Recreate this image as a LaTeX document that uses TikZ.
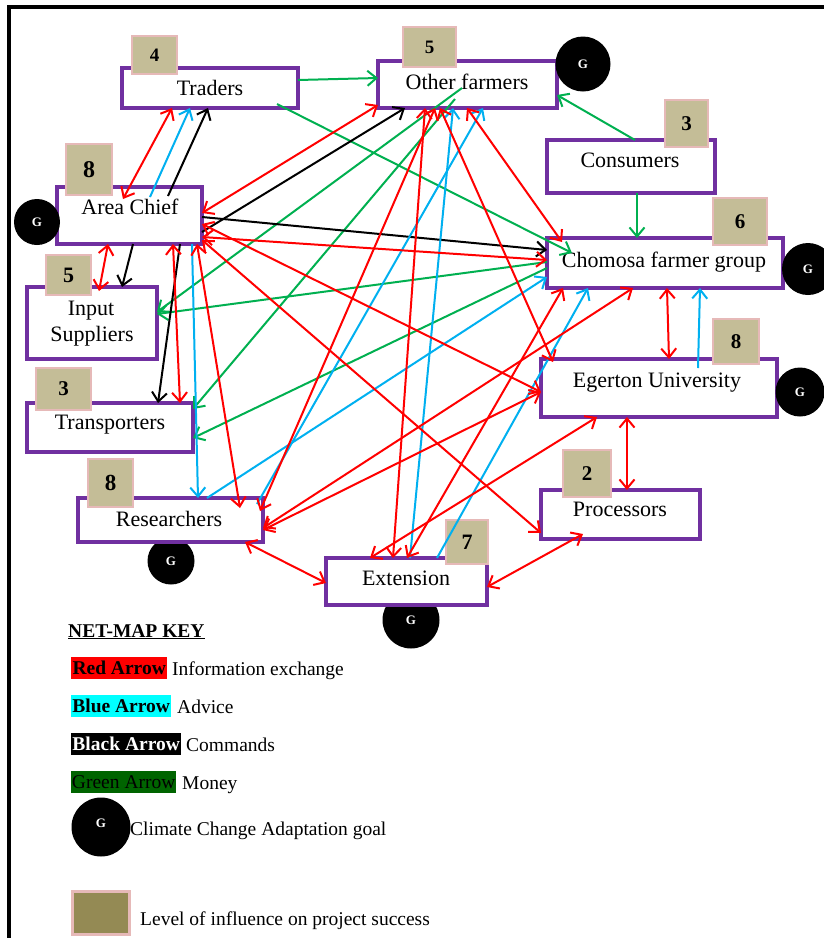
\documentclass[tikz,border=0pt]{standalone}
\usepackage{fontspec}
\setmainfont{Liberation Serif}
\usetikzlibrary{arrows.meta}
\definecolor{boxp}{HTML}{7030A0}
\definecolor{badgetan}{HTML}{C4BD97}
\definecolor{badgepink}{HTML}{E6B9B8}
\definecolor{keysq}{HTML}{948A54}
\definecolor{ared}{HTML}{FF0000}
\definecolor{ablue}{HTML}{00B0F0}
\definecolor{agreen}{HTML}{00B050}
\definecolor{cyanhl}{HTML}{00FFFF}
\definecolor{greenhl}{HTML}{006400}
\tikzset{
 box/.style={draw=boxp, line width=3.2pt, fill=white, anchor=north west, inner sep=0pt, outer sep=0pt},
 lbl/.style={anchor=base, inner sep=0pt, font=\fontsize{22}{26}\selectfont},
 badge/.style={fill=badgetan, draw=badgepink, line width=2.8pt, inner sep=0pt, font=\bfseries\fontsize{21}{24}\selectfont},
 goal/.style={circle, fill=black, inner sep=0pt, text=white, font=\bfseries\fontsize{13}{15}\selectfont},
 con/.style={line width=2pt},
 oneway/.style={con, -{Straight Barb[length=9pt,width=15pt]}},
 twoway/.style={con, {Straight Barb[length=9pt,width=15pt]}-{Straight Barb[length=9pt,width=15pt]}},
 keytxt/.style={anchor=base west, inner sep=0pt, font=\fontsize{19.5}{23}\selectfont},
 keyhl/.style={anchor=north west, inner sep=0pt, minimum height=22pt, font=\bfseries\fontsize{19.5}{23}\selectfont},
}
\begin{document}
\begin{tikzpicture}[x=1pt,y=-1pt]
\useasboundingbox (0,0) rectangle (824,938);
\fill[white] (0,0) rectangle (824,938);
% frame
\draw[line width=3.5pt] (9,938) -- (9,7) -- (824,7);

% goal circles drawn under boxes
\node[goal, minimum size=57pt] (exG) at (411,620) {G};
\node[goal, minimum size=47pt] (rsG) at (171,561) {G};

% boxes
\node[box, minimum width=176pt, minimum height=40pt] (tr) at (122,68) {};
\node[box, minimum width=179pt, minimum height=47pt] (of) at (378,61) {};
\node[box, minimum width=168pt, minimum height=53pt] (co) at (547,140) {};
\node[box, minimum width=145pt, minimum height=57pt] (ac) at (57,187) {};
\node[box, minimum width=236pt, minimum height=50pt] (ch) at (547,238) {};
\node[box, minimum width=130pt, minimum height=72pt] (is) at (27,287) {};
\node[box, minimum width=236pt, minimum height=58pt] (eg) at (541,359) {};
\node[box, minimum width=166pt, minimum height=49pt] (tp) at (27,403) {};
\node[box, minimum width=185pt, minimum height=44pt] (rs) at (78,498) {};
\node[box, minimum width=159pt, minimum height=49pt] (pr) at (541,490) {};
\node[box, minimum width=161pt, minimum height=47pt] (ex) at (326,558) {};

% labels
\node[lbl] (trl) at (210,95) {Traders};
\node[lbl] (ofl) at (467,89) {Other farmers};
\node[lbl] (col) at (630,167) {Consumers};
\node[lbl] (acl) at (130,214) {Area Chief};
\node[lbl] (chl) at (664,267) {Chomosa farmer group};
\node[lbl] (isl1) at (91,315) {Input};
\node[lbl] (isl2) at (92,341) {Suppliers};
\node[lbl] (egl) at (657,387) {Egerton University};
\node[lbl] (tpl) at (110,429) {Transporters};
\node[lbl] (rsl) at (169,526) {Researchers};
\node[lbl] (prl) at (620,516) {Processors};
\node[lbl] (exl) at (406,585) {Extension};

% influence badges
\node[badge, minimum width=45pt, minimum height=38pt, font=\bfseries\fontsize{19}{22}\selectfont] (trn) at (154.5,55) {4};
\node[badge, minimum width=53pt, minimum height=40pt, font=\bfseries\fontsize{19}{22}\selectfont] (ofn) at (429.5,47) {5};
\node[badge, minimum width=43pt, minimum height=47pt] (con) at (686.5,123.5) {3};
\node[badge, minimum width=46pt, minimum height=51pt, font=\bfseries\fontsize{24}{28}\selectfont] (acn) at (89,169.5) {8};
\node[badge, minimum width=54pt, minimum height=47pt] (chn) at (740,221.5) {6};
\node[badge, minimum width=45pt, minimum height=40pt, font=\bfseries\fontsize{22}{26}\selectfont] (isn) at (68.5,275) {5};
\node[badge, minimum width=55pt, minimum height=42pt] (tpn) at (63.5,389) {3};
\node[badge, minimum width=45pt, minimum height=48pt, font=\bfseries\fontsize{23}{27}\selectfont] (rsn) at (110.5,483) {8};
\node[badge, minimum width=46pt, minimum height=45pt] (egn) at (736,341.5) {8};
\node[badge, minimum width=48pt, minimum height=47pt] (prn) at (587,473.5) {2};
\node[badge, minimum width=42pt, minimum height=44pt, font=\bfseries\fontsize{22}{26}\selectfont] (exn) at (467,542) {7};

% goal circles
\node[goal, minimum size=55pt] (ofG) at (583,64) {G};
\node[goal, minimum size=46pt] (acG) at (37,222) {G};
\node[goal, minimum size=52pt] (chG) at (808,269) {G};
\node[goal, minimum size=49pt] (egG) at (800,392) {G};

% green: money
\draw[oneway, agreen] ([yshift=-12pt]tr.north east) -- ([yshift=-17pt]of.north west);
\draw[oneway, agreen] ([xshift=155pt,yshift=4pt]tr.south west) -- ([xshift=25pt,yshift=-15pt]ch.north west);
\draw[oneway, agreen] ([xshift=88pt]co.north west) -- ([yshift=-34pt]of.north east);
\draw[oneway, agreen] ([xshift=90pt]co.south west) -- ([xshift=90pt]ch.north west);
\draw[oneway, agreen] ([xshift=84pt,yshift=-27pt]of.north west) -- ([yshift=-25pt]is.north east);
\draw[oneway, agreen] ([xshift=77pt,yshift=-38pt]of.north west) -- ([yshift=-6pt]tp.north east);
\draw[oneway, agreen] ([yshift=-24pt]ch.north west) -- ([yshift=-27pt]is.north east);
\draw[oneway, agreen] ([yshift=-30pt]ch.north west) -- ([yshift=-35pt]tp.north east);

% black: commands
\draw[oneway, black] ([xshift=111pt,yshift=-9pt]ac.north west) -- ([xshift=86pt]tr.south west);
\draw[oneway, black] ([yshift=-45pt]ac.north east) -- ([xshift=27pt]of.south west);
\draw[oneway, black] ([yshift=-30pt]ac.north east) -- ([yshift=-12pt]ch.north west);
\draw[oneway, black] ([xshift=76pt]ac.south west) -- ([xshift=95pt]is.north west);
\draw[oneway, black] ([xshift=123pt]ac.south west) -- ([xshift=131pt]tp.north west);

% blue: advice
\draw[oneway, ablue] ([xshift=93pt,yshift=-10pt]ac.north west) -- ([xshift=68pt]tr.south west);
\draw[oneway, ablue] ([xshift=135pt]ac.south west) -- ([xshift=120pt]rs.north west);
\draw[oneway, ablue] ([xshift=129pt]rs.north west) -- ([yshift=-39pt]ch.north west);
\draw[oneway, ablue] ([xshift=179pt,yshift=-6pt]rs.north west) -- ([xshift=105pt]of.south west);
\draw[oneway, ablue] ([xshift=84pt]ex.north west) -- ([xshift=75pt]of.south west);
\draw[oneway, ablue] ([xshift=111pt]ex.north west) -- ([xshift=41pt]ch.south west);
\draw[oneway, ablue] ([xshift=157pt,yshift=-9pt]eg.north west) -- ([xshift=153pt]ch.south west);

% red: information exchange
\draw[twoway, ared] ([xshift=50pt]tr.south west) -- ([xshift=66pt,yshift=-12pt]ac.north west);
\draw[twoway, ared] ([yshift=3pt]of.south west) -- ([yshift=-26pt]ac.north east);
\draw[twoway, ared] ([xshift=51pt]ac.south west) -- ([xshift=72pt,yshift=-4pt]is.north west);
\draw[twoway, ared] ([xshift=116pt]ac.south west) -- ([xshift=153pt]tp.north west);
\draw[twoway, ared] ([xshift=140pt]ac.south west) -- ([xshift=162pt,yshift=-10pt]rs.north west);
\draw[twoway, ared] ([yshift=-50pt]ac.north east) -- ([yshift=-22pt]ch.north west);
\draw[twoway, ared] ([yshift=-37pt]ac.north east) -- ([yshift=-33pt]eg.north west);
\draw[twoway, ared] ([yshift=-53pt]ac.north east) -- ([yshift=-43pt]pr.north west);
\draw[twoway, ared] ([xshift=89pt]of.south west) -- ([xshift=15pt,yshift=-4pt]ch.north west);
\draw[twoway, ared] ([xshift=62pt]of.south west) -- ([xshift=12pt,yshift=-3pt]eg.north west);
\draw[twoway, ared] ([xshift=47pt]of.south west) -- ([xshift=67pt]ex.north west);
\draw[twoway, ared] ([xshift=57pt]of.south west) -- ([xshift=-3pt,yshift=-13pt]rs.north east);
\draw[twoway, ared] ([xshift=120pt]ch.south west) -- ([xshift=128pt]eg.north west);
\draw[twoway, ared] ([xshift=86pt]ch.south west) -- ([yshift=-30pt]rs.north east);
\draw[twoway, ared] ([xshift=16pt]ch.south west) -- ([xshift=81pt]ex.north west);
\draw[twoway, ared] ([yshift=-33pt]eg.north west) -- ([yshift=-32pt]rs.north east);
\draw[twoway, ared] ([xshift=56pt]eg.south west) -- ([xshift=44pt]ex.north west);
\draw[twoway, ared] ([xshift=86pt]eg.south west) -- ([xshift=86pt]pr.north west);
\draw[twoway, ared] ([yshift=-29pt]ex.north east) -- ([xshift=42pt,yshift=5pt]pr.south west);
\draw[twoway, ared] ([xshift=167pt]rs.south west) -- ([yshift=-25pt]ex.north west);

% key
\node[anchor=base west, inner sep=0pt, font=\bfseries\fontsize{19.5}{23}\selectfont] (keyt) at (68,637) {\underline{NET-MAP KEY}};
\node[keyhl, fill=ared, minimum width=96pt] (k1) at (71,657) {Red Arrow};
\node[keytxt] (k1t) at (172,675) {Information exchange};
\node[keyhl, fill=cyanhl, minimum width=100pt] (k2) at (71,695) {Blue Arrow};
\node[keytxt] (k2t) at (177,713) {Advice};
\node[keyhl, fill=black, text=white, minimum width=110pt] (k3) at (71,733) {Black Arrow};
\node[keytxt] (k3t) at (186,751) {Commands};
\node[keyhl, fill=greenhl, minimum width=105pt, font=\fontsize{19.5}{23}\selectfont] (k4) at (71,771) {Green Arrow};
\node[keytxt] (k4t) at (182,789) {Money};
\node[goal, minimum size=59pt] (k5) at (101,827) {\raisebox{8pt}{G}};
\node[keytxt] (k5t) at (130,835) {Climate Change Adaptation goal};
\node[fill=keysq, draw=badgepink, line width=3pt, minimum width=57pt, minimum height=43pt, inner sep=0pt] (k6) at (100.5,912.5) {};
\node[keytxt] (k6t) at (140,925) {Level of influence on project success};
\end{tikzpicture}
\end{document}
